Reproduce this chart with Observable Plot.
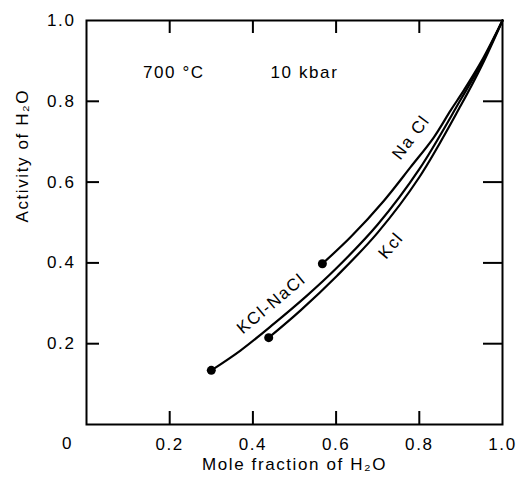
<!DOCTYPE html>
<html>
<head>
<meta charset="utf-8">
<script src="https://cdn.jsdelivr.net/npm/d3@7"></script>
<script src="https://cdn.jsdelivr.net/npm/@observablehq/plot@0.6"></script>
<style>
  html, body { margin: 0; padding: 0; background: #fff; }
</style>
</head>
<body>
<div id="chart"></div>
<script>
// Series
const naclX = [0.567, 0.635, 0.715, 0.779, 0.835, 0.875, 0.907, 0.95, 1.0];
const naclY = [0.398, 0.464, 0.554, 0.637, 0.711, 0.777, 0.827, 0.90, 1.0];

const mixX = [0.30, 0.37, 0.45, 0.53, 0.60, 0.70, 0.80, 0.90, 0.95, 1.0];
const mixY = [0.134, 0.183, 0.249, 0.319, 0.386, 0.495, 0.632, 0.805, 0.895, 1.0];

const kclX = [0.438, 0.514, 0.603, 0.70, 0.80, 0.90, 0.95, 1.0];
const kclY = [0.215, 0.282, 0.369, 0.475, 0.612, 0.79, 0.888, 1.0];

// Ticks
const xTickLabels = [0.2, 0.4, 0.6, 0.8, 1.0];
const yTickLabels = [0.2, 0.4, 0.6, 0.8, 1.0];
const innerTicks = [0.2, 0.4, 0.6, 0.8];

// Labels
const curveLabels = [
  {text: "Na Cl", x: 0.78, y: 0.711, angle: -53},
  {text: "Kcl", x: 0.732, y: 0.443, angle: -50},
  {text: "KCl-NaCl", x: 0.444, y: 0.299, angle: -40}
];
const notes = [
  {text: "700 °C", x: 0.21, y: 0.871},
  {text: "10 kbar", x: 0.524, y: 0.871}
];

const toPts = (xs, ys) => xs.map((x, i) => ({x, y: ys[i]}));
const nacl = toPts(naclX, naclY);
const mix = toPts(mixX, mixY);
const kcl = toPts(kclX, kclY);
const starts = [nacl[0], mix[0], kcl[0]];

const fmt = d3.format(".1f");
const FS = 17;

const chart = Plot.plot({
  width: 517,
  height: 478,
  marginLeft: 86,
  marginRight: 15,
  marginTop: 20,
  marginBottom: 54,
  style: {
    fontFamily: "'Liberation Sans', Arial, Helvetica, sans-serif",
    fontSize: "17px",
    letterSpacing: "1.6px",
    color: "black",
    background: "white"
  },
  x: {domain: [0, 1]},
  y: {domain: [0, 1]},
  marks: [
    Plot.frame({stroke: "black", strokeWidth: 2}),
    Plot.axisX(xTickLabels, {tickSize: 0, tickPadding: 13, tickFormat: fmt, label: null, fontSize: FS}),
    Plot.axisY(yTickLabels, {tickSize: 0, tickPadding: 11, tickFormat: fmt, label: null, fontSize: FS}),
    Plot.text([0], {x: 0, y: 0, text: d => "0", dx: -19, dy: 19, fontSize: FS}),
    // inward ticks on all four sides
    Plot.tickX(innerTicks, {x: d => d, insetTop: 391, stroke: "black", strokeWidth: 2}),
    Plot.tickX(innerTicks, {x: d => d, insetBottom: 391, stroke: "black", strokeWidth: 2}),
    Plot.tickY(innerTicks, {y: d => d, insetRight: 403, stroke: "black", strokeWidth: 2}),
    Plot.tickY(innerTicks, {y: d => d, insetLeft: 397, stroke: "black", strokeWidth: 2}),
    // curves
    Plot.line(nacl, {x: "x", y: "y", curve: "catmull-rom", stroke: "black", strokeWidth: 2.2}),
    Plot.line(mix, {x: "x", y: "y", curve: "catmull-rom", stroke: "black", strokeWidth: 2.2}),
    Plot.line(kcl, {x: "x", y: "y", curve: "catmull-rom", stroke: "black", strokeWidth: 2.2}),
    Plot.dot(starts, {x: "x", y: "y", r: 4.5, fill: "black", stroke: "none"}),
    // labels
    Plot.text(curveLabels, {x: "x", y: "y", text: "text", rotate: d => d.angle, fill: "black", fontSize: FS}),
    Plot.text(notes, {x: "x", y: "y", text: "text", fill: "black", fontSize: FS}),
    Plot.text(["Mole fraction of H₂O"], {frameAnchor: "bottom", dy: 45, text: d => d, fill: "black", fontSize: FS}),
    Plot.text(["Activity of H₂O"], {frameAnchor: "left", dx: -64, rotate: -90, text: d => d, fill: "black", fontSize: FS})
  ]
});

document.getElementById("chart").appendChild(chart);
</script>
</body>
</html>
